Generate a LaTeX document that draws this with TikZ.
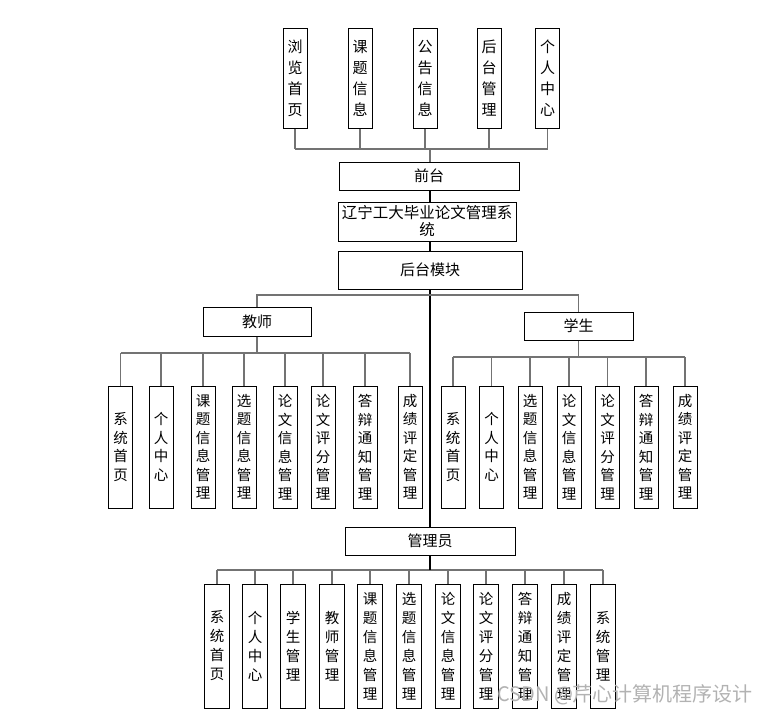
\documentclass[tikz,border=0pt]{standalone}
\usepackage{fontspec}
\setmainfont{Noto Sans CJK SC}
\begin{document}
\begin{tikzpicture}[x=1pt,y=-1pt,
  box/.style={draw=black, line width=1pt, fill=white, inner sep=0pt, align=center, font=\fontsize{15}{18}\selectfont},
  vbox/.style={box, minimum width=24pt, minimum height=122pt, font=\fontsize{14.5}{18.5}\selectfont},
  topbox/.style={box, minimum width=24pt, minimum height=100pt, font=\fontsize{15}{21}\selectfont},
  abox/.style={box, minimum width=25pt, minimum height=124pt, font=\fontsize{14.5}{19}\selectfont},
  conn/.style={draw=black!55, line width=1.2pt},
  trunk/.style={draw=black, line width=1.1pt}]
\useasboundingbox (0,0) rectangle (764,718);
% top level
\foreach \x/\t [count=\i] in {295/{浏\\览\\首\\页},360/{课\\题\\信\\息},425/{公\\告\\信\\息},489/{后\\台\\管\\理},547.5/{个\\人\\中\\心}}
  \node[topbox] (top\i) at (\x,78) {\t};
\node[box, minimum width=180pt, minimum height=28pt] (front) at (429,176) {前台};
\node[box, minimum width=178pt, minimum height=39pt, font=\fontsize{15.5}{17}\selectfont] (title) at (427,221.5) {辽宁工大毕业论文管理系\\统};
\node[box, minimum width=184pt, minimum height=38pt] (back) at (430,270) {后台模块};
\node[box, minimum width=108pt, minimum height=29pt] (teacher) at (257,321.5) {教师};
\node[box, minimum width=109pt, minimum height=28pt] (student) at (578.5,326) {学生};
\node[box, minimum width=170pt, minimum height=28pt] (admin) at (430,541) {管理员};
% teacher children
\foreach \x/\t [count=\i] in {120.5/{系\\统\\首\\页},161/{个\\人\\中\\心},203/{课\\题\\信\\息\\管\\理},244/{选\\题\\信\\息\\管\\理},285/{论\\文\\信\\息\\管\\理},323/{论\\文\\评\\分\\管\\理},365/{答\\辩\\通\\知\\管\\理},410/{成\\绩\\评\\定\\管\\理}}
  \node[vbox] (tc\i) at (\x,447) {\t};
% student children
\foreach \x/\t [count=\i] in {453/{系\\统\\首\\页},491.5/{个\\人\\中\\心},530/{选\\题\\信\\息\\管\\理},569/{论\\文\\信\\息\\管\\理},607.5/{论\\文\\评\\分\\管\\理},646/{答\\辩\\通\\知\\管\\理},685/{成\\绩\\评\\定\\管\\理}}
  \node[vbox] (sc\i) at (\x,447) {\t};
% admin children
\foreach \x/\t [count=\i] in {217/{系\\统\\首\\页},255/{个\\人\\中\\心},293/{学\\生\\管\\理},332/{教\\师\\管\\理},370/{课\\题\\信\\息\\管\\理},409/{选\\题\\信\\息\\管\\理},448/{论\\文\\信\\息\\管\\理},486/{论\\文\\评\\分\\管\\理},525/{答\\辩\\通\\知\\管\\理},564/{成\\绩\\评\\定\\管\\理},603/{系\\统\\管\\理}}
  \node[abox] (ac\i) at (\x,646) {\t};
% bus coordinates
\coordinate (topbus) at (0,149);
\coordinate (midbus) at (0,295);
\coordinate (tbus) at (0,353);
\coordinate (sbus) at (0,357);
\coordinate (abus) at (0,570);
\coordinate (tx) at (430,0);
% top connectors
\foreach \i in {1,...,5} \draw[conn] (top\i.south) -- (top\i.south |- topbus);
\draw[conn] (top1.south |- topbus) -- (top5.south |- topbus);
\draw[conn] (tx |- front.north) -- (tx |- topbus);
% trunk
\draw[trunk] (tx |- front.south) -- (tx |- title.north);
\draw[trunk] (tx |- title.south) -- (tx |- back.north);
\draw[trunk] (tx |- back.south) -- (tx |- admin.north);
% teacher / student
\draw[conn] (teacher.north) -- (teacher.north |- midbus) -- (student.north |- midbus) -- (student.north);
\foreach \i in {1,...,8} \draw[conn] (tc\i.north) -- (tc\i.north |- tbus);
\draw[conn] (tc1.north |- tbus) -- (tc8.north |- tbus);
\draw[conn] (teacher.south) -- (teacher.south |- tbus);
\foreach \i in {1,...,7} \draw[conn] (sc\i.north) -- (sc\i.north |- sbus);
\draw[conn] (sc1.north |- sbus) -- (sc7.north |- sbus);
\draw[conn] (student.south) -- (student.south |- sbus);
% admin
\foreach \i in {1,...,11} \draw[conn] (ac\i.north) -- (ac\i.north |- abus);
\draw[conn] (ac1.north |- abus) -- (ac11.north |- abus);
\draw[trunk] (tx |- admin.south) -- (tx |- abus);
% watermark
\node[anchor=west, inner sep=0pt, text=black!30, font=\fontsize{20}{22}\selectfont] (wm) at (497,695) {CSDN @芹心计算机程序设计};
\end{tikzpicture}
\end{document}
